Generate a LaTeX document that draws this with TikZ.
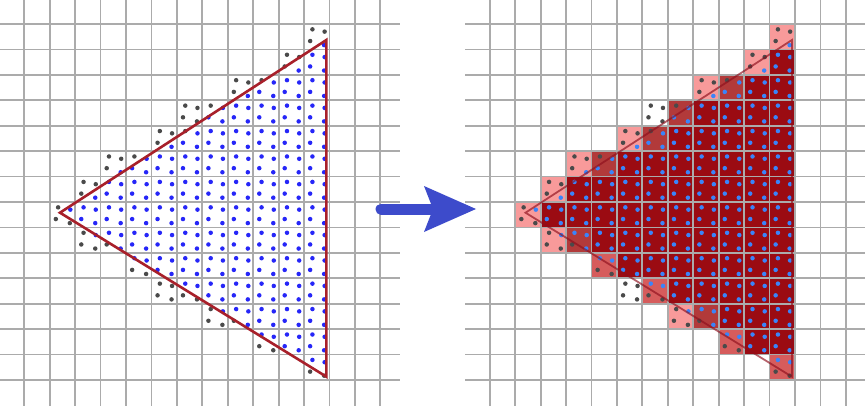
\documentclass[tikz,border=0pt]{standalone}
\definecolor{gridc}{HTML}{ABABAB}
\definecolor{dotg}{HTML}{4A4A4A}
\definecolor{dotbl}{HTML}{2626F8}
\definecolor{dotbr}{HTML}{3A84FA}
\definecolor{triL}{HTML}{A8202A}
\definecolor{triR}{HTML}{8E0E1C}
\definecolor{c1}{HTML}{F89A9A}
\definecolor{c2}{HTML}{D65C5C}
\definecolor{c3}{HTML}{B23A3A}
\definecolor{c4}{HTML}{9B0B12}
\definecolor{arr}{HTML}{3D4BCB}
\newcount\pcnt
\def\parsemask#1#2#3#4\relax{\def\sA{#1}\def\sB{#2}\def\sC{#3}\def\sD{#4}\pcnt=\numexpr#1+#2+#3+#4\relax}
\def\getmask#1#2{\ifcsname pm#1x#2\endcsname\expandafter\expandafter\expandafter\parsemask\csname pm#1x#2\endcsname\relax\else\parsemask1111\relax\fi}
\def\setm#1#2#3{\expandafter\def\csname pm#1x#2\endcsname{#3}}
\setm{11}{0}{0001}
\setm{10}{1}{0001}
\setm{8}{2}{0001}
\setm{9}{2}{0111}
\setm{6}{3}{0000}
\setm{7}{3}{0111}
\setm{5}{4}{0001}
\setm{6}{4}{0111}
\setm{3}{5}{0001}
\setm{4}{5}{0111}
\setm{2}{6}{0001}
\setm{1}{7}{0100}
\setm{2}{8}{0100}
\setm{3}{8}{1101}
\setm{4}{9}{1100}
\setm{5}{10}{0000}
\setm{6}{10}{1100}
\setm{7}{11}{0100}
\setm{8}{11}{1101}
\setm{9}{12}{1100}
\setm{11}{13}{1100}
\def\PS{25.43}
\def\dotat#1#2#3#4#5{%
  \ifnum#5=1\relax\def\colL{dotbl}\def\colR{dotbr}\else\def\colL{dotg}\def\colR{dotg}\fi
  \fill[fill=\colL] ({24.3+(#1+#3)*\PS},{24+(#2+#4)*\PS}) circle[radius=2.25];
  \fill[fill=\colR] ({489.8+(#1+#3)*\PS},{24+(#2+#4)*\PS}) circle[radius=2.25];}
\def\rows{0/11,1/10,2/8,3/6,4/5,5/3,6/2,7/1,8/2,9/4,10/5,11/7,12/9,13/11}
\tikzset{gridline/.style={draw=gridc,line width=1.8}}
\begin{document}
\begin{tikzpicture}[x=1pt,y=-1pt]
\useasboundingbox (0,0) rectangle (866,406);
\fill[white] (0,0) rectangle (866,406);
% right panel coverage fills
\foreach \j/\a in \rows {
  \foreach \i in {\a,...,11} {
    \getmask{\i}{\j}
    \ifnum\pcnt>0\relax
      \edef\cc{c\the\pcnt}
      \fill[fill=\cc] ({489.8+\i*\PS},{24+\j*\PS}) rectangle ++(\PS,\PS);
    \fi
  }
}
% grids
\foreach \k in {0,...,14} {
  \draw[gridline] ({24.3+\k*\PS},0) -- ++(0,406);
  \draw[gridline] (0,{24+\k*\PS}) -- (400,{24+\k*\PS});
  \draw[gridline] ({489.8+\k*\PS},0) -- ++(0,406);
  \draw[gridline] (465,{24+\k*\PS}) -- (865,{24+\k*\PS});
}
% samples
\foreach \j/\a in \rows {
  \foreach \i in {\a,...,11} {
    \getmask{\i}{\j}
    \dotat{\i}{\j}{0.33}{0.21}{\sA}
    \dotat{\i}{\j}{0.81}{0.30}{\sB}
    \dotat{\i}{\j}{0.24}{0.67}{\sC}
    \dotat{\i}{\j}{0.79}{0.83}{\sD}
  }
}
% triangles
\draw[triL,line width=2.6,line join=miter] (60,212.7) -- (326.4,40) -- (326.4,376.7) -- cycle;
\draw[triR,draw opacity=0.65,line width=1.8,line join=miter] (525.5,212.7) -- (791.9,40) -- (791.9,376.7) -- cycle;
% arrow
\draw[arr,line width=11,line cap=round] (381,209) -- (432,209);
\fill[arr] (424,186) -- (476,209) -- (424,232) -- (433,209) -- cycle;
\end{tikzpicture}
\end{document}
